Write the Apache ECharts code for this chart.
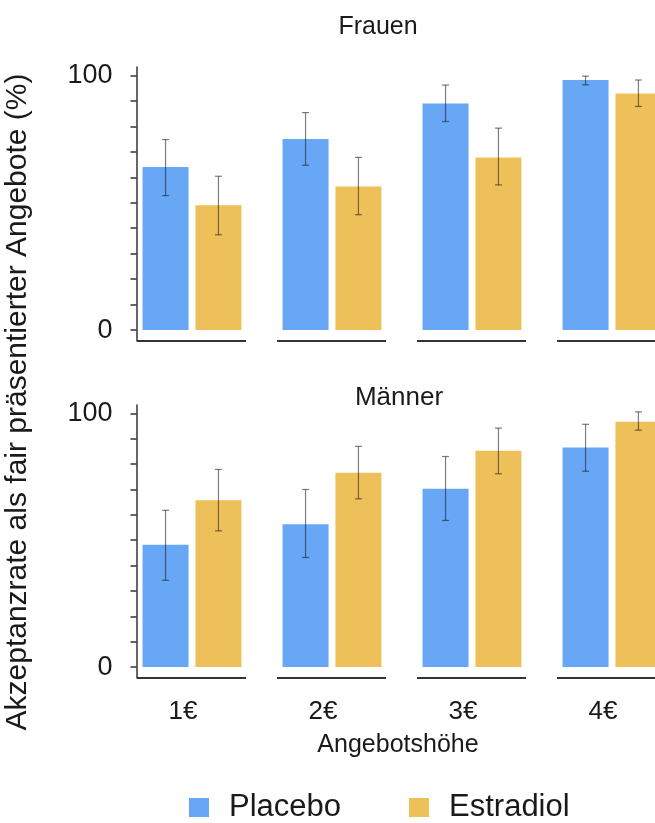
<!DOCTYPE html>
<html><head><meta charset="utf-8">
<script src="https://cdn.jsdelivr.net/npm/echarts@6/dist/echarts.min.js"></script>
<style>html,body{margin:0;padding:0;background:#fff}#c{width:655px;height:823px}</style>
</head><body><div id="c"></div>
<script>
// ---- data ----
const categories = ['1€', '2€', '3€', '4€'];
const seriesNames = ['Placebo', 'Estradiol'];
const panelTitles = ['Frauen', 'Männer'];
const yTicks = [0, 10, 20, 30, 40, 50, 60, 70, 80, 90, 100];
const yTickLabels = [0, 100];
const xAxisTitle = 'Angebotshöhe';
const yAxisTitle = 'Akzeptanzrate als fair präsentierter Angebote (%)';

const frauenPlacebo = [64, 75, 89, 98.2];
const frauenPlaceboLow = [52.8, 64.7, 81.9, 96.3];
const frauenPlaceboHigh = [74.8, 85.4, 96.2, 99.7];
const frauenEstradiol = [49, 56.4, 67.8, 92.9];
const frauenEstradiolLow = [37.4, 45.3, 57, 87.8];
const frauenEstradiolHigh = [60.4, 67.8, 79.3, 98.2];

const maennerPlacebo = [48.2, 56.3, 70.3, 86.5];
const maennerPlaceboLow = [34.2, 43.2, 57.8, 77.2];
const maennerPlaceboHigh = [61.8, 70, 83, 95.7];
const maennerEstradiol = [65.8, 76.6, 85.3, 96.7];
const maennerEstradiolLow = [53.7, 66.3, 76.2, 93.4];
const maennerEstradiolHigh = [77.9, 87, 94.2, 100.6];

// ---- style ----
const FONT = 'Liberation Sans, Arial, sans-serif';
const COLORS = ['#68a6f6', '#eec05a'];
const TEXT = '#1a1a1a';
const AXIS = '#333';
const Y_MIN = -4.3, Y_MAX = 103.3;
const BAR_W = 46, GAP_PCT = 15;
const OFF = (BAR_W + BAR_W * GAP_PCT / 100) / 2;

const grids = [
  { left: 122, width: 560, top: 67, height: 274, outerBoundsMode: 'none', containLabel: false },
  { left: 122, width: 560, top: 405, height: 273, outerBoundsMode: 'none', containLabel: false }
];

function errRender(offset) {
  return function (params, api) {
    const i = api.value(0);
    const lo = api.coord([i, api.value(1)]);
    const hi = api.coord([i, api.value(2)]);
    const x = lo[0] + offset;
    const st = { stroke: 'rgba(20,20,20,0.55)', lineWidth: 1.2 };
    return { type: 'group', children: [
      { type: 'line', shape: { x1: x, y1: lo[1], x2: x, y2: hi[1] }, style: st },
      { type: 'line', shape: { x1: x - 3.5, y1: lo[1], x2: x + 3.5, y2: lo[1] }, style: st },
      { type: 'line', shape: { x1: x - 3.5, y1: hi[1], x2: x + 3.5, y2: hi[1] }, style: st }
    ]};
  };
}
function segRender(params, api) {
  const p = api.coord([api.value(0), Y_MIN]);
  return { type: 'line', shape: { x1: p[0] - 55, y1: p[1], x2: p[0] + 54, y2: p[1] },
    style: { stroke: AXIS, lineWidth: 2 } };
}

const xAxes = [0, 1].map(g => ({
  gridIndex: g, type: 'category', data: categories,
  axisLine: { show: false, onZero: false }, axisTick: { show: false },
  axisLabel: g === 1 ? { show: true, fontSize: 26, margin: 21, color: TEXT, fontFamily: FONT, padding: [0, 18, 0, 0] } : { show: false },
  name: g === 1 ? xAxisTitle : '', nameLocation: 'middle', nameGap: 55,
  nameTextStyle: { fontSize: 25, color: TEXT, fontFamily: FONT, verticalAlign: 'top', padding: [0, 8, 0, 0] }
}));
const yAxes = [0, 1].map(g => ({
  gridIndex: g, type: 'value', min: Y_MIN, max: Y_MAX, offset: -14.5,
  axisLine: { show: true, lineStyle: { color: AXIS, width: 1.5 } },
  axisTick: { show: true, length: 6, customValues: yTicks, lineStyle: { color: AXIS, width: 1.5 } },
  axisLabel: { customValues: yTickLabels, margin: 24, fontSize: 27, color: TEXT, fontFamily: FONT },
  splitLine: { show: false }
}));

const panels = [
  [frauenPlacebo, frauenPlaceboLow, frauenPlaceboHigh, frauenEstradiol, frauenEstradiolLow, frauenEstradiolHigh],
  [maennerPlacebo, maennerPlaceboLow, maennerPlaceboHigh, maennerEstradiol, maennerEstradiolLow, maennerEstradiolHigh]
];
const series = [];
panels.forEach((p, g) => {
  series.push({ name: seriesNames[0], type: 'bar', xAxisIndex: g, yAxisIndex: g, data: p[0],
    barWidth: BAR_W, barGap: GAP_PCT + '%', itemStyle: { color: COLORS[0] } });
  series.push({ name: seriesNames[1], type: 'bar', xAxisIndex: g, yAxisIndex: g, data: p[3],
    barWidth: BAR_W, barGap: GAP_PCT + '%', itemStyle: { color: COLORS[1] } });
  series.push({ name: 'errP' + g, type: 'custom', xAxisIndex: g, yAxisIndex: g, z: 5,
    data: categories.map((c, i) => [i, p[1][i], p[2][i]]), encode: { x: 0, y: [1, 2] },
    renderItem: errRender(-OFF) });
  series.push({ name: 'errE' + g, type: 'custom', xAxisIndex: g, yAxisIndex: g, z: 5,
    data: categories.map((c, i) => [i, p[4][i], p[5][i]]), encode: { x: 0, y: [1, 2] },
    renderItem: errRender(OFF) });
  series.push({ name: 'seg' + g, type: 'custom', xAxisIndex: g, yAxisIndex: g, z: 5,
    data: categories.map((c, i) => [i, Y_MIN]), encode: { x: 0, y: 1 },
    renderItem: segRender });
});

const chart = echarts.init(document.getElementById('c'), null, { renderer: 'canvas' });
chart.setOption({
  backgroundColor: '#fff',
  animation: false,
  grid: grids,
  xAxis: xAxes,
  yAxis: yAxes,
  series: series,
  legend: {
    data: seriesNames, left: 184, top: 787, icon: 'rect', itemWidth: 20, itemHeight: 19, itemGap: 68,
    textStyle: { fontSize: 31, color: TEXT, fontFamily: FONT, padding: [0, 0, 0, 15] }
  },
  graphic: [
    { type: 'text', x: 378, y: 27, style: { text: panelTitles[0], align: 'center', verticalAlign: 'middle', fontSize: 25, fontFamily: FONT, fill: TEXT } },
    { type: 'text', x: 399, y: 398, style: { text: panelTitles[1], align: 'center', verticalAlign: 'middle', fontSize: 26, fontFamily: FONT, fill: TEXT } },
    { type: 'text', x: 18, y: 402, rotation: Math.PI / 2, style: { text: yAxisTitle, align: 'center', verticalAlign: 'middle', fontSize: 30, fontFamily: FONT, fill: TEXT } }
  ]
});
</script></body></html>
